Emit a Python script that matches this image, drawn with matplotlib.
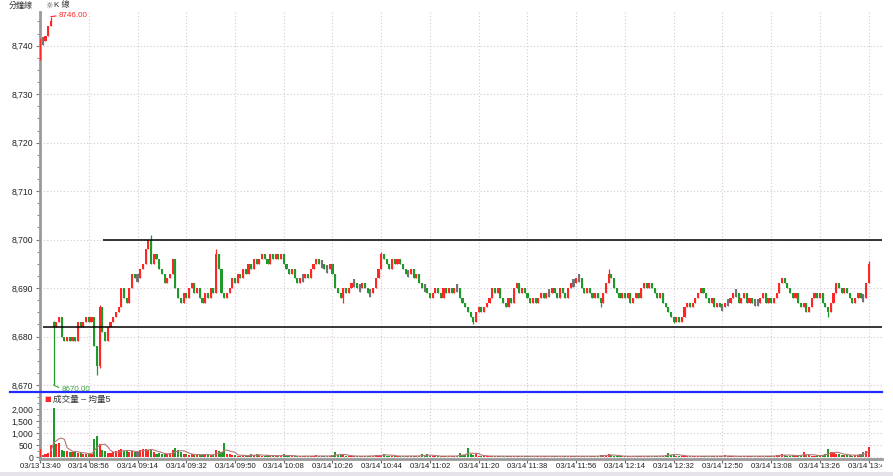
import matplotlib
matplotlib.use('Agg')
import matplotlib.pyplot as plt
import numpy as np
import pandas as pd
from matplotlib.patches import Rectangle
from matplotlib.lines import Line2D
from matplotlib.transforms import Bbox, TransformedBbox, blended_transform_factory
from matplotlib.ticker import FuncFormatter, MultipleLocator

plt.rcParams['font.family'] = ['Liberation Sans', 'Noto Sans CJK TC', 'DejaVu Sans']

# ---------------- data (1-minute K bars) ----------------
closes = [
    8741, 8741, 8742, 8744, 8745,
    8682, 8683, 8684, 8680, 8679,
    8680, 8679, 8680, 8679, 8683,
    8682, 8683, 8684, 8683, 8684,
    8678, 8674, 8686, 8681, 8679,
    8682, 8683, 8684, 8685, 8686,
    8690, 8688, 8687, 8690, 8693,
    8692, 8692, 8694, 8695, 8698,
    8700, 8695, 8697, 8696, 8694,
    8693, 8691, 8692, 8693, 8696,
    8690, 8688, 8687, 8689, 8688,
    8690, 8691, 8689, 8690, 8688,
    8687, 8689, 8688, 8690, 8689,
    8697, 8694, 8689, 8688, 8689,
    8690, 8692, 8691, 8693, 8692,
    8694, 8693, 8695, 8694, 8696,
    8695, 8696, 8697, 8696, 8695,
    8697, 8696, 8697, 8696, 8697,
    8695, 8694, 8693, 8694, 8692,
    8691, 8692, 8692, 8693, 8692,
    8694, 8695, 8696, 8695, 8695,
    8694, 8694, 8695, 8693, 8690,
    8689, 8688, 8690, 8689, 8690,
    8691, 8691, 8690, 8690, 8691,
    8690, 8689, 8689, 8690, 8692,
    8694, 8697, 8696, 8695, 8694,
    8696, 8695, 8696, 8695, 8694,
    8693, 8693, 8694, 8692, 8693,
    8691, 8690, 8690, 8689, 8688,
    8689, 8690, 8689, 8688, 8690,
    8689, 8690, 8689, 8690, 8690,
    8688, 8687, 8686, 8685, 8684,
    8683, 8685, 8686, 8685, 8686,
    8687, 8688, 8690, 8689, 8690,
    8688, 8687, 8686, 8688, 8687,
    8690, 8691, 8689, 8690, 8689,
    8688, 8687, 8688, 8687, 8688,
    8689, 8688, 8689, 8689, 8690,
    8689, 8688, 8690, 8689, 8688,
    8690, 8691, 8691, 8692, 8692,
    8690, 8689, 8690, 8689, 8688,
    8689, 8688, 8687, 8689, 8691,
    8693, 8692, 8690, 8689, 8688,
    8689, 8688, 8689, 8687, 8688,
    8689, 8688, 8690, 8691, 8690,
    8691, 8690, 8689, 8688, 8689,
    8687, 8686, 8685, 8684, 8683,
    8684, 8683, 8684, 8686, 8687,
    8686, 8687, 8688, 8689, 8690,
    8689, 8688, 8687, 8688, 8686,
    8687, 8686, 8686, 8687, 8687,
    8688, 8689, 8689, 8687, 8688,
    8689, 8687, 8688, 8687, 8687,
    8687, 8688, 8689, 8687, 8688,
    8687, 8688, 8689, 8691, 8692,
    8691, 8690, 8689, 8688, 8689,
    8687, 8686, 8687, 8685, 8686,
    8688, 8689, 8688, 8689, 8687,
    8686, 8685, 8687, 8689, 8691,
    8690, 8689, 8690, 8689, 8688,
    8687, 8688, 8689, 8688, 8688,
    8691, 8695,
]
first_open = 8738          # open of the first bar (03/13 13:40)
session_open = {5: 8683}   # opening price of the 03/14 session (gap)
high_ext = {0: 8741.5, 4: 8746, 5: 8683.3, 22: 8686.5, 41: 8701, 65: 8698,
            126: 8697.5, 210: 8694, 306: 8695.6}
low_ext = {0: 8737, 5: 8670, 21: 8672, 22: 8673.5, 112: 8687, 160: 8682.5,
           207: 8686, 234: 8682.8, 291: 8684}

volumes = [
    330, 100, 150, 170, 500, 2050, 560, 580, 300, 250,
    280, 220, 200, 260, 180, 160, 150, 130, 150, 140,
    750, 880, 570, 300, 250, 180, 160, 200, 250, 300,
    330, 280, 250, 230, 280, 200, 250, 300, 350, 330,
    300, 350, 200, 150, 160, 140, 150, 130, 160, 300,
    400, 300, 200, 150, 120, 100, 120, 80, 150, 90,
    110, 130, 100, 80, 100, 300, 250, 200, 600, 150,
    120, 100, 80, 60, 70, 90, 60, 70, 120, 80,
    120, 100, 60, 70, 80, 60, 80, 70, 60, 70,
    125, 60, 50, 40, 60, 50, 40, 70, 50, 40,
    60, 50, 80, 50, 40, 60, 50, 70, 90, 200,
    100, 120, 80, 60, 50, 40, 50, 60, 40, 50,
    60, 50, 70, 60, 90, 80, 100, 150, 70, 60,
    50, 60, 40, 50, 60, 50, 40, 50, 60, 70,
    60, 120, 70, 130, 60, 50, 40, 50, 40, 60,
    50, 40, 50, 60, 70, 180, 90, 110, 380, 120,
    100, 120, 60, 50, 40, 50, 60, 50, 40, 50,
    60, 40, 50, 40, 50, 60, 40, 50, 40, 50,
    40, 50, 40, 60, 50, 40, 50, 40, 60, 50,
    40, 50, 40, 50, 60, 40, 50, 40, 50, 40,
    50, 60, 40, 50, 40, 60, 50, 80, 100, 90,
    130, 80, 60, 50, 40, 50, 40, 50, 40, 60,
    50, 40, 50, 40, 60, 50, 40, 50, 60, 70,
    60, 90, 180, 80, 150, 70, 60, 50, 60, 40,
    50, 40, 50, 60, 50, 40, 50, 40, 60, 50,
    40, 50, 60, 80, 50, 40, 50, 40, 50, 60,
    40, 50, 40, 50, 40, 60, 50, 40, 50, 60,
    50, 60, 80, 100, 130, 90, 70, 60, 80, 70,
    90, 80, 200, 100, 80, 60, 70, 90, 80, 100,
    120, 330, 220, 200, 150, 120, 100, 90, 110, 80,
    70, 90, 100, 120, 230, 280, 430,
]

tick_labels = ['03/13 13:40', '03/14 08:56', '03/14 09:14', '03/14 09:32', '03/14 09:50',
               '03/14 10:08', '03/14 10:26', '03/14 10:44', '03/14 11:02', '03/14 11:20',
               '03/14 11:38', '03/14 11:56', '03/14 12:14', '03/14 12:32', '03/14 12:50',
               '03/14 13:08', '03/14 13:26', '03/14 13:44']
tick_every = 18
upper_line = 8700
lower_line = 8681.9
high_label = '8746.00'
low_label = '8670.00'

# ---------------- derived ----------------
n = len(closes)
x = np.arange(n)
c = np.array(closes, dtype=float)
o = np.empty(n)
o[0] = first_open
o[1:] = c[:-1]
for k, v in session_open.items():
    o[k] = v

RED, GREEN, GRAY = '#ff2626', '#1f9a2a', '#737373'
cols = np.where(c > o, RED, np.where(c < o, GREEN, GRAY))
DOJI = 0.8
body_lo = np.minimum(o, c)
body_hi = np.maximum(o, c)
flat = c == o
body_lo = np.where(flat, c - DOJI, body_lo)
body_hi = np.where(flat, c + DOJI, body_hi)
hi = body_hi.copy()
lo = body_lo.copy()
for k, v in high_ext.items():
    hi[k] = v
for k, v in low_ext.items():
    lo[k] = v

vol = np.array(volumes, dtype=float)
ma5 = pd.Series(vol).rolling(5).mean().values

# ---------------- figure ----------------
W, H = 893, 476
fig = plt.figure(figsize=(W / 100, H / 100), dpi=100)
L = 39.5 / W
R = 882 / W
ax = fig.add_axes([L, 1 - 390 / H, R - L, (390 - 12) / H])
ax2 = fig.add_axes([L, 1 - 459 / H, R - L, (459 - 394) / H])

xlim = (-0.2, (882 - 40) / 2.708)
tick_idx = np.arange(0, n, tick_every)[:len(tick_labels)]
grid_kw = dict(color='#d6c8d6', linestyle=(0, (1, 2)), linewidth=0.8)

# price panel
ax.vlines(x, lo, hi, colors=cols, linewidth=0.9, zorder=3)
ax.bar(x, body_hi - body_lo, bottom=body_lo, width=0.78, color=cols, linewidth=0, zorder=4)
ax.hlines(upper_line, 23.3, xlim[1], colors='black', linewidth=1.1, zorder=5)
ax.hlines(lower_line, 1, xlim[1], colors='black', linewidth=1.1, zorder=5)
ax.set_xlim(*xlim)
ax.set_ylim(8668.97, 8746.95)
ax.set_yticks(np.arange(8670, 8741, 10))
ax.yaxis.set_minor_locator(MultipleLocator(2.5))
ax.yaxis.set_major_formatter(FuncFormatter(lambda v, p: f'{v:,.0f}'))
ax.set_xticks(tick_idx)
ax.tick_params(axis='x', length=0, labelbottom=False)
ax.tick_params(axis='y', which='major', length=3, width=0.8, color='#777777', labelsize=6.2,
               labelcolor='#222222', pad=1.5)
ax.tick_params(axis='y', which='minor', length=2, width=0.7, color='#888888')
ax.grid(True, **grid_kw)
ax.set_axisbelow(True)
for s in ['top', 'right', 'bottom']:
    ax.spines[s].set_visible(False)
ax.spines['left'].set_color('#9a9a9a')
ax.spines['left'].set_linewidth(2)

ax.annotate(high_label, xy=(4, high_ext[4]), xytext=(8, 1), textcoords='offset pixels',
            color=RED, fontsize=5.8, ha='left', va='center',
            arrowprops=dict(arrowstyle='-', color=RED, lw=0.8, shrinkA=0, shrinkB=0, relpos=(0, 0.5)),
            zorder=6, annotation_clip=False)
ax.annotate(low_label, xy=(5, low_ext[5]), xytext=(8, -4), textcoords='offset pixels',
            color='#3aa53a', fontsize=5.8, ha='left', va='center',
            arrowprops=dict(arrowstyle='-', color='#3aa53a', lw=0.8, shrinkA=0, shrinkB=0, relpos=(0, 0.5)),
            zorder=6, annotation_clip=False)

# volume panel
ax2.bar(x, vol, width=0.78, color=cols, linewidth=0, zorder=3)
ax2.plot(x, ma5, color='#b87878', linewidth=0.8, zorder=4)
ax2.set_xlim(*xlim)
ax2.set_ylim(-71, 2637)
ax2.set_yticks([0, 500, 1000, 1500, 2000])
ax2.yaxis.set_minor_locator(MultipleLocator(250))
ax2.yaxis.set_major_formatter(FuncFormatter(lambda v, p: f'{v:,.0f}'))
ax2.set_xticks(tick_idx)
ax2.tick_params(axis='x', length=3, width=0.8, color='#666666', labelbottom=False)
ax2.tick_params(axis='y', which='major', length=3, width=0.8, color='#777777', labelsize=6.2,
                labelcolor='#222222', pad=1.5)
ax2.tick_params(axis='y', which='minor', length=2, width=0.7, color='#888888')
ax2.grid(True, **grid_kw)
ax2.set_axisbelow(True)
for s in ['top', 'right']:
    ax2.spines[s].set_visible(False)
for s in ['left', 'bottom']:
    ax2.spines[s].set_color('#9a9a9a')
    ax2.spines[s].set_linewidth(2)

clipbox = TransformedBbox(Bbox([[0, 0], [882 / W, 1]]), fig.transFigure)
trans = blended_transform_factory(ax2.transData, fig.transFigure)
for t, lab in zip(tick_idx, tick_labels):
    txt = ax2.text(t, 1 - 466 / H, lab, transform=trans, ha='center', va='center',
                   fontsize=5.6, color='#222222', clip_on=True)
    txt.set_clip_box(clipbox)

# separators, titles, legend
fig.add_artist(Line2D([10 / W, 882 / W], [1 - 392.3 / H] * 2, color='#1f2bff', linewidth=1.6))
fig.add_artist(Rectangle((0, 0), 1, 4.5 / H, transform=fig.transFigure,
                         facecolor='#e6e4ea', edgecolor='none'))
fig.text(9 / W, 1 - 5.5 / H, '分鐘線', fontsize=5.8, color='#333333', va='center', ha='left')
fig.text(45.5 / W, 1 - 5.5 / H, '☼', fontsize=6, color='#444444', va='center', ha='left',
         family=['DejaVu Sans'])
fig.text(54 / W, 1 - 5.5 / H, 'K 線', fontsize=5.8, color='#333333', va='center', ha='left')
fig.text(44.5 / W, 1 - 399.5 / H, '■', fontsize=5, color=RED, va='center', ha='left',
         family=['DejaVu Sans'])
fig.text(53 / W, 1 - 399.5 / H, '成交量 – 均量5', fontsize=6.2, color='#333333',
         va='center', ha='left')

fig.savefig('out.png', dpi=100, facecolor='white')
